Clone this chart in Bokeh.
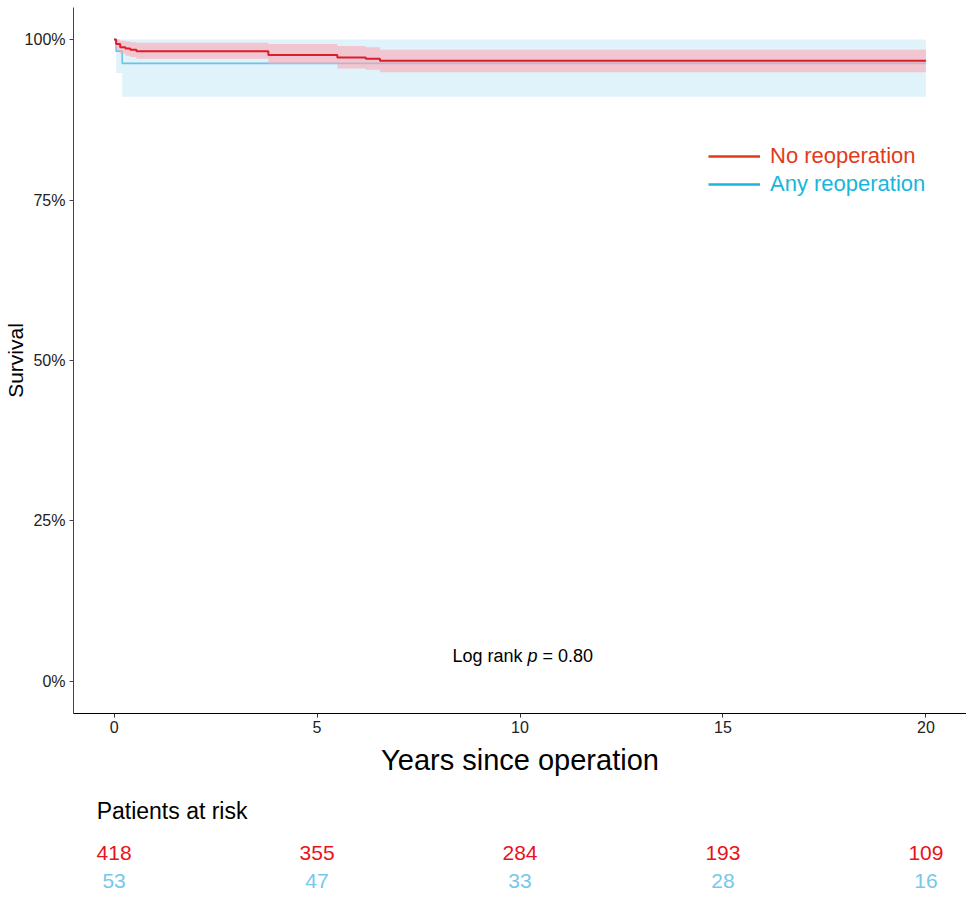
from bokeh.plotting import figure
from bokeh.layouts import column
from bokeh.models import (Range1d, FixedTicker, NumeralTickFormatter, Label,
                          Legend, LegendItem, ColumnDataSource)
from bokeh.core.properties import value
from bokeh.embed import file_html
from bokeh.resources import INLINE

# ---------------- data ----------------
# No reoperation (Kaplan-Meier estimate with 95% CI)
times_no = [0, 0.05, 0.15, 0.28, 0.4, 0.55, 3.8, 5.5, 6.2, 6.55, 20]
surv_no = [1.0, 0.993, 0.988, 0.986, 0.984, 0.982, 0.976, 0.972, 0.970, 0.967, 0.967]
lower_no = [1.0, 0.984, 0.978, 0.975, 0.973, 0.970, 0.962, 0.955, 0.953, 0.949, 0.949]
upper_no = [1.0, 1.0, 0.998, 0.997, 0.996, 0.995, 0.993, 0.990, 0.988, 0.984, 0.984]

# Any reoperation
times_any = [0, 0.05, 0.2, 20]
surv_any = [1.0, 0.982, 0.963, 0.963]
lower_any = [1.0, 0.948, 0.911, 0.911]
upper_any = [1.0, 1.0, 1.0, 1.0]

# Patients at risk
risk_times = [0, 5, 10, 15, 20]
risk_no = [418, 355, 284, 193, 109]
risk_any = [53, 47, 33, 28, 16]

x_ticks = [0, 5, 10, 15, 20]
y_ticks = [0, 0.25, 0.5, 0.75, 1.0]

FONT = "Liberation Sans"
RED_LINE = "#DC1E2A"
BLUE_LINE = "#6CC4E4"
RED_LEG = "#E23A1A"
BLUE_LEG = "#18B6DC"
RED_TXT = "#E8131B"
BLUE_TXT = "#76C8EA"

# ---------------- main plot ----------------
p = figure(width=966, height=790, output_backend="svg", toolbar_location=None,
           x_range=Range1d(-1, 21), y_range=Range1d(-0.05, 1.05),
           min_border_left=73, min_border_right=0, min_border_top=7,
           min_border_bottom=77)
p.outline_line_color = None
p.grid.visible = False
p.background_fill_color = "white"

# confidence bands and curves
p.varea_step(x=times_any, y1=lower_any, y2=upper_any, step_mode="after",
             fill_color="#87CEEB", fill_alpha=0.25)
r_any = p.step(times_any, surv_any, mode="after", line_color=BLUE_LINE, line_width=1.6)
p.varea_step(x=times_no, y1=lower_no, y2=upper_no, step_mode="after",
             fill_color="#FDA8B4", fill_alpha=0.6)
r_no = p.step(times_no, surv_no, mode="after", line_color=RED_LINE, line_width=2)

# axes
p.xaxis.ticker = FixedTicker(ticks=x_ticks)
p.yaxis.ticker = FixedTicker(ticks=y_ticks)
p.yaxis.formatter = NumeralTickFormatter(format="0%")
for ax in (p.xaxis[0], p.yaxis[0]):
    ax.major_tick_in = 0
    ax.major_tick_out = 4
    ax.minor_tick_line_color = None
    ax.major_label_text_font = FONT
    ax.major_label_text_font_size = "16px"
    ax.major_label_text_color = "#222222"
    ax.axis_label_text_font = FONT
    ax.axis_label_text_font_style = "normal"
    ax.axis_label_text_color = "black"
p.xaxis.axis_line_color = "black"
p.xaxis.major_tick_line_color = "#333333"
p.yaxis.axis_line_color = "#444444"
p.yaxis.major_tick_line_color = "#444444"
p.xaxis.major_label_standoff = 3
p.yaxis.major_label_standoff = 4
p.xaxis.axis_label = "Years since operation"
p.xaxis.axis_label_text_font_size = "29px"
p.xaxis.axis_label_standoff = 8
p.yaxis.axis_label = "Survival"
p.yaxis.axis_label_text_font_size = "21px"
p.yaxis.axis_label_standoff = -5

# legend (two legends so each label has its own colour); the legend
# renderers hold a single point so they draw nothing in the plot area
r_leg_no = p.line([times_no[-1]], [surv_no[-1]], line_color=RED_LEG, line_width=2.5)
r_leg_any = p.line([times_any[-1]], [surv_any[-1]], line_color=BLUE_LEG, line_width=2.5)
for renderer, label, color, ybot in ((r_leg_no, "No reoperation", RED_LEG, 544),
                                     (r_leg_any, "Any reoperation", BLUE_LEG, 516)):
    lg = Legend(items=[LegendItem(label=label, renderers=[renderer])],
                location=(635, ybot), padding=0, margin=0, spacing=0,
                border_line_color=None, background_fill_alpha=0,
                glyph_width=52, glyph_height=22, label_height=22,
                label_standoff=10, label_text_font=FONT,
                label_text_font_size="22px", label_text_color=color)
    p.add_layout(lg)

# log rank annotation
for txt, off, align, style in (("Log rank", 2.5, "right", "normal"),
                               ("p", 7.5, "left", "italic"),
                               ("= 0.80", 22.5, "left", "normal")):
    p.add_layout(Label(x=10, y=0.04, x_offset=off, text=txt, text_align=align,
                       text_baseline="middle", text_font=FONT,
                       text_font_size="18px", text_font_style=style,
                       text_color="black"))

# ---------------- patients at risk table ----------------
t = figure(width=966, height=107, output_backend="svg", toolbar_location=None,
           x_range=Range1d(-1, 21), y_range=Range1d(0, 107),
           min_border_left=73, min_border_right=0, min_border_top=0,
           min_border_bottom=0, x_axis_location=None, y_axis_location=None)
t.outline_line_color = None
t.grid.visible = False

t.add_layout(Label(x=-0.43, y=87, text="Patients at risk", text_align="left",
                   text_baseline="middle", text_font=FONT,
                   text_font_size="23px", text_color="black"))

src_no = ColumnDataSource(dict(x=risk_times, y=[45] * len(risk_times),
                               t=[str(v) for v in risk_no]))
src_any = ColumnDataSource(dict(x=risk_times, y=[17] * len(risk_times),
                                t=[str(v) for v in risk_any]))
t.text(x="x", y="y", text="t", source=src_no, text_align="center",
       text_baseline="middle", text_font=value(FONT), text_font_size="21px",
       text_color=RED_TXT)
t.text(x="x", y="y", text="t", source=src_any, text_align="center",
       text_baseline="middle", text_font=value(FONT), text_font_size="21px",
       text_color=BLUE_TXT)

layout = column(p, t, spacing=0)
open("out.html", "w").write(file_html(layout, INLINE))
